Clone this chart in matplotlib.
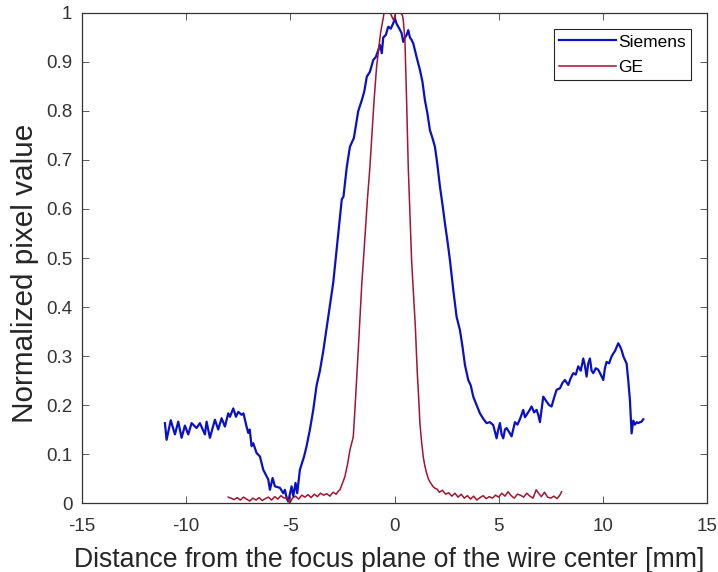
import numpy as np
import matplotlib
matplotlib.use('Agg')
import matplotlib.pyplot as plt

plt.rcParams['font.family'] = ['Liberation Sans', 'DejaVu Sans']
plt.rcParams['axes.unicode_minus'] = False

# Siemens profile
siemens_x = [-11.02, -10.94, -10.74, -10.54, -10.38, -10.22, -10.06, -9.9, -9.74, -9.5,
             -9.34, -9.1, -9.02, -8.86, -8.62, -8.46, -8.3, -8.14, -7.98, -7.9,
             -7.74, -7.61, -7.5, -7.34, -7.25, -7.1, -7.02, -6.95, -6.86, -6.78,
             -6.62, -6.46, -6.3, -6.06, -5.98, -5.85, -5.74, -5.5, -5.34, -5.26,
             -5.18, -5.1, -4.94, -4.86, -4.75, -4.67, -4.54, -4.34, -4.22, -4.06,
             -3.9, -3.74, -3.58, -3.42, -3.18, -2.94, -2.78, -2.6, -2.53, -2.45,
             -2.29, -2.14, -1.95, -1.74, -1.57, -1.45, -1.33, -1.18, -1.02, -0.9,
             -0.78, -0.7, -0.61, -0.54, -0.42, -0.3, -0.18, -0.06, 0.02, 0.1,
             0.18, 0.34, 0.42, 0.5, 0.58, 0.66, 0.74, 0.82, 0.9, 1.06,
             1.22, 1.34, 1.46, 1.58, 1.7, 1.82, 1.94, 2.06, 2.18, 2.3,
             2.42, 2.54, 2.66, 2.82, 2.98, 3.14, 3.26, 3.38, 3.54, 3.66,
             3.78, 3.94, 4.1, 4.26, 4.42, 4.58, 4.74, 4.9, 4.98, 5.06,
             5.14, 5.22, 5.3, 5.38, 5.5, 5.62, 5.78, 5.9, 6.02, 6.18,
             6.26, 6.34, 6.46, 6.58, 6.7, 6.82, 6.9, 6.98, 7.14, 7.3,
             7.42, 7.54, 7.66, 7.78, 7.94, 8.06, 8.18, 8.34, 8.46, 8.58,
             8.7, 8.82, 8.94, 9.06, 9.14, 9.22, 9.3, 9.38, 9.46, 9.54,
             9.66, 9.78, 9.9, 10.02, 10.1, 10.18, 10.3, 10.42, 10.5, 10.58,
             10.66, 10.74, 10.82, 10.9, 10.98, 11.06, 11.14, 11.22, 11.3, 11.38,
             11.46, 11.54, 11.62, 11.7, 11.78, 11.86, 11.94]
siemens_y = [0.163, 0.129, 0.169, 0.140, 0.166, 0.133, 0.158, 0.140, 0.163, 0.153,
             0.163, 0.140, 0.166, 0.133, 0.170, 0.150, 0.173, 0.156, 0.183, 0.176,
             0.193, 0.176, 0.186, 0.180, 0.183, 0.156, 0.143, 0.150, 0.116, 0.122,
             0.102, 0.095, 0.068, 0.048, 0.027, 0.051, 0.034, 0.031, 0.020, 0.027,
             0.010, 0.003, 0.034, 0.014, 0.041, 0.020, 0.068, 0.095, 0.116, 0.150,
             0.190, 0.240, 0.270, 0.310, 0.380, 0.450, 0.516, 0.590, 0.620, 0.625,
             0.686, 0.727, 0.745, 0.800, 0.822, 0.840, 0.870, 0.880, 0.904, 0.910,
             0.924, 0.935, 0.918, 0.950, 0.955, 0.972, 0.968, 0.979, 0.989, 0.978,
             0.972, 0.959, 0.941, 0.950, 0.955, 0.965, 0.950, 0.945, 0.938, 0.910,
             0.884, 0.860, 0.822, 0.795, 0.761, 0.745, 0.727, 0.690, 0.646, 0.610,
             0.571, 0.535, 0.496, 0.435, 0.380, 0.353, 0.320, 0.282, 0.251, 0.240,
             0.217, 0.200, 0.183, 0.172, 0.163, 0.165, 0.159, 0.132, 0.150, 0.163,
             0.140, 0.132, 0.150, 0.153, 0.145, 0.136, 0.165, 0.160, 0.171, 0.190,
             0.175, 0.180, 0.188, 0.197, 0.185, 0.190, 0.180, 0.165, 0.217, 0.207,
             0.200, 0.197, 0.215, 0.231, 0.234, 0.245, 0.251, 0.241, 0.255, 0.265,
             0.262, 0.279, 0.270, 0.295, 0.280, 0.258, 0.285, 0.295, 0.270, 0.265,
             0.275, 0.272, 0.262, 0.251, 0.275, 0.288, 0.285, 0.299, 0.305, 0.310,
             0.318, 0.326, 0.320, 0.312, 0.300, 0.292, 0.285, 0.250, 0.210, 0.142,
             0.168, 0.160, 0.165, 0.163, 0.165, 0.166, 0.171]

# GE profile
ge_x = [-7.98, -7.85, -7.7, -7.55, -7.4, -7.25, -7.1, -6.95, -6.8, -6.65,
        -6.5, -6.35, -6.2, -6.05, -5.9, -5.75, -5.6, -5.45, -5.3, -5.15,
        -5.02, -4.9, -4.75, -4.6, -4.45, -4.3, -4.15, -4.0, -3.85, -3.7,
        -3.55, -3.4, -3.25, -3.1, -2.95, -2.8, -2.7, -2.62, -2.5, -2.38,
        -2.25, -2.14, -1.98, -1.9, -1.74, -1.57, -1.46, -1.3, -1.18, -0.98,
        -0.86, -0.67, -0.5, -0.35, -0.2, -0.1, -0.04, 0.05, 0.15, 0.3,
        0.38, 0.42, 0.5, 0.58, 0.66, 0.82, 0.92, 1.0, 1.06, 1.1,
        1.14, 1.22, 1.3, 1.38, 1.46, 1.54, 1.62, 1.7, 1.78, 1.86,
        1.95, 2.05, 2.15, 2.3, 2.45, 2.6, 2.75, 2.9, 3.05, 3.2,
        3.35, 3.5, 3.65, 3.8, 3.95, 4.1, 4.25, 4.4, 4.55, 4.7,
        4.85, 5.0, 5.15, 5.3, 5.45, 5.6, 5.75, 5.9, 6.05, 6.2,
        6.35, 6.5, 6.65, 6.8, 6.95, 7.05, 7.2, 7.35, 7.5, 7.65,
        7.8, 7.92, 8.02]
ge_y = [0.012, 0.010, 0.007, 0.011, 0.006, 0.012, 0.008, 0.004, 0.010, 0.006,
        0.011, 0.005, 0.009, 0.012, 0.006, 0.013, 0.008, 0.015, 0.010, 0.012,
        0.000, 0.010, 0.014, 0.008, 0.016, 0.012, 0.017, 0.011, 0.018, 0.013,
        0.020, 0.016, 0.019, 0.014, 0.022, 0.018, 0.024, 0.027, 0.040, 0.054,
        0.080, 0.108, 0.135, 0.190, 0.312, 0.448, 0.516, 0.620, 0.686, 0.822,
        0.890, 0.959, 1.000, 1.000, 1.000, 0.990, 0.985, 1.000, 1.000, 1.000,
        0.995, 0.986, 0.945, 0.822, 0.686, 0.496, 0.420, 0.360, 0.299, 0.260,
        0.231, 0.163, 0.125, 0.094, 0.075, 0.061, 0.050, 0.043, 0.038, 0.033,
        0.030, 0.028, 0.022, 0.026, 0.018, 0.021, 0.014, 0.020, 0.012, 0.018,
        0.010, 0.015, 0.008, 0.014, 0.006, 0.011, 0.015, 0.009, 0.013, 0.010,
        0.016, 0.012, 0.020, 0.014, 0.023, 0.015, 0.010, 0.018, 0.016, 0.012,
        0.020, 0.014, 0.010, 0.027, 0.018, 0.013, 0.022, 0.012, 0.010, 0.014,
        0.009, 0.015, 0.023]

x_ticks = [-15, -10, -5, 0, 5, 10, 15]
y_ticks = [0, 0.1, 0.2, 0.3, 0.4, 0.5, 0.6, 0.7, 0.8, 0.9, 1]
y_tick_labels = ['0', '0.1', '0.2', '0.3', '0.4', '0.5', '0.6', '0.7', '0.8', '0.9', '1']

fig = plt.figure(figsize=(7.18, 5.72), dpi=100)
ax = fig.add_axes([0.1142, 0.1206, 0.8705, 0.8567])

ax.plot(siemens_x, siemens_y, color='#0a10c4', lw=1.6, label='Siemens')
ax.plot(ge_x, ge_y, color='#a2142f', lw=1.1, label='GE')

ax.set_xlim(-15, 15)
ax.set_ylim(0, 1)
ax.set_xticks(x_ticks)
ax.set_xticklabels([str(t) for t in x_ticks])
ax.set_yticks(y_ticks)
ax.set_yticklabels(y_tick_labels)
ax.tick_params(direction='in', top=True, right=True, length=5, width=0.6,
               color='#404040', labelsize=13.5, labelcolor='#333333')
ax.tick_params(axis='x', pad=10.5)
ax.tick_params(axis='y', pad=7)
for s in ax.spines.values():
    s.set_color('#333333')
    s.set_linewidth(0.9)

ax.set_xlabel('Distance from the focus plane of the wire center [mm]', fontsize=19.2,
              color='#262626')
ax.set_ylabel('Normalized pixel value', fontsize=21.4, color='#262626')
ax.xaxis.set_label_coords(0.491, -0.09)
ax.yaxis.set_label_coords(-0.068, 0.468)

leg = ax.legend(loc='upper right', bbox_to_anchor=(0.974, 0.967), borderaxespad=0,
                fontsize=12.5, handlelength=3.3, handletextpad=0.1, labelspacing=0.6,
                fancybox=False, framealpha=1, borderpad=0.3)
leg.get_frame().set_edgecolor('#262626')
leg.get_frame().set_linewidth(0.8)

fig.savefig('out.png', dpi=100)
